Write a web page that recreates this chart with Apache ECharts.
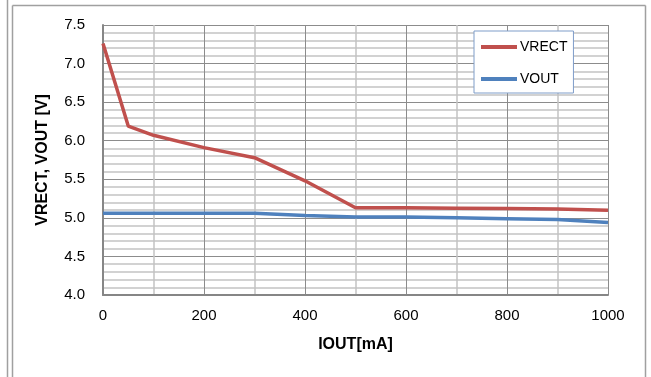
<!DOCTYPE html>
<html>
<head>
<meta charset="utf-8">
<script src="https://cdn.jsdelivr.net/npm/echarts@6/dist/echarts.min.js"></script>
<style>
html,body{margin:0;padding:0;background:#fff;}
#c{width:651px;height:377px;}
</style>
</head>
<body>
<div id="c"></div>
<script>
var iout = [0, 50, 100, 200, 300, 400, 500, 600, 700, 800, 900, 1000];
var vrect = [7.26, 6.19, 6.07, 5.91, 5.78, 5.48, 5.13, 5.13, 5.125, 5.12, 5.115, 5.10];
var vout = [5.06, 5.06, 5.06, 5.06, 5.06, 5.03, 5.01, 5.01, 5.00, 4.99, 4.98, 4.94];
var seriesNames = ['VRECT', 'VOUT'];
var xName = 'IOUT[mA]';
var yName = 'VRECT, VOUT [V]';

function pairs(xs, ys) { return xs.map(function (x, i) { return [x, ys[i]]; }); }

var font = 'Liberation Sans';
var chart = echarts.init(document.getElementById('c'), null, {renderer: 'canvas'});
chart.setOption({
  animation: false,
  textStyle: {fontFamily: font},
  grid: {left: 103, right: 43, top: 25, bottom: 82},
  legend: {
    orient: 'vertical',
    left: 474, top: 31,
    padding: [8, 6, 6, 7],
    backgroundColor: '#fff',
    borderColor: '#7F9DC9',
    borderWidth: 1,
    itemWidth: 36, itemHeight: 4, itemGap: 16,
    icon: 'rect',
    textStyle: {fontFamily: font, fontSize: 14, color: '#000', lineHeight: 16, padding: [0, 0, 0, -2]},
    data: seriesNames
  },
  xAxis: {
    type: 'value', min: 0, max: 1000, interval: 200,
    name: xName, nameLocation: 'middle', nameGap: 42,
    nameTextStyle: {fontFamily: font, fontSize: 16, fontWeight: 'bold', color: '#000'},
    axisLine: {show: true, lineStyle: {color: '#868686', width: 2}},
    axisTick: {show: false},
    axisLabel: {fontFamily: font, fontSize: 15, color: '#000', margin: 13,
      formatter: function (v) { return String(v); }},
    splitLine: {show: true, lineStyle: {color: '#8c8c8c', width: 1}},
    minorTick: {show: false, splitNumber: 2},
    minorSplitLine: {show: true, lineStyle: {color: '#c4c4c4', width: 1.5}}
  },
  yAxis: {
    type: 'value', min: 4, max: 7.5, interval: 0.5,
    name: yName, nameLocation: 'middle', nameGap: 52, nameRotate: 90,
    nameTextStyle: {fontFamily: font, fontSize: 16, fontWeight: 'bold', color: '#000'},
    axisLine: {show: true, lineStyle: {color: '#868686', width: 2}},
    axisTick: {show: false},
    axisLabel: {fontFamily: font, fontSize: 15, color: '#000', margin: 18,
      formatter: function (v) { return v.toFixed(1); }},
    splitLine: {show: true, lineStyle: {color: '#8c8c8c', width: 1}},
    minorTick: {show: false, splitNumber: 5},
    minorSplitLine: {show: true, lineStyle: {color: '#c4c4c4', width: 1.5}}
  },
  graphic: [
    {type: 'line', silent: true, shape: {x1: 7.5, y1: 0, x2: 7.5, y2: 377}, style: {stroke: '#a0a0a0', lineWidth: 1.5}},
    {type: 'line', silent: true, shape: {x1: 12.5, y1: 5.5, x2: 12.5, y2: 377}, style: {stroke: '#a0a0a0', lineWidth: 1.5}},
    {type: 'line', silent: true, shape: {x1: 12.5, y1: 5.5, x2: 645.5, y2: 5.5}, style: {stroke: '#a0a0a0', lineWidth: 1.5}},
    {type: 'line', silent: true, shape: {x1: 645.5, y1: 5.5, x2: 645.5, y2: 377}, style: {stroke: '#a0a0a0', lineWidth: 1.5}}
  ],
  series: [
    {name: seriesNames[0], type: 'line', data: pairs(iout, vrect), symbol: 'none',
      lineStyle: {color: '#C0504D', width: 3.5}, itemStyle: {color: '#C0504D'}},
    {name: seriesNames[1], type: 'line', data: pairs(iout, vout), symbol: 'none',
      lineStyle: {color: '#4F81BD', width: 3.5}, itemStyle: {color: '#4F81BD'}}
  ]
});
</script>
</body>
</html>
